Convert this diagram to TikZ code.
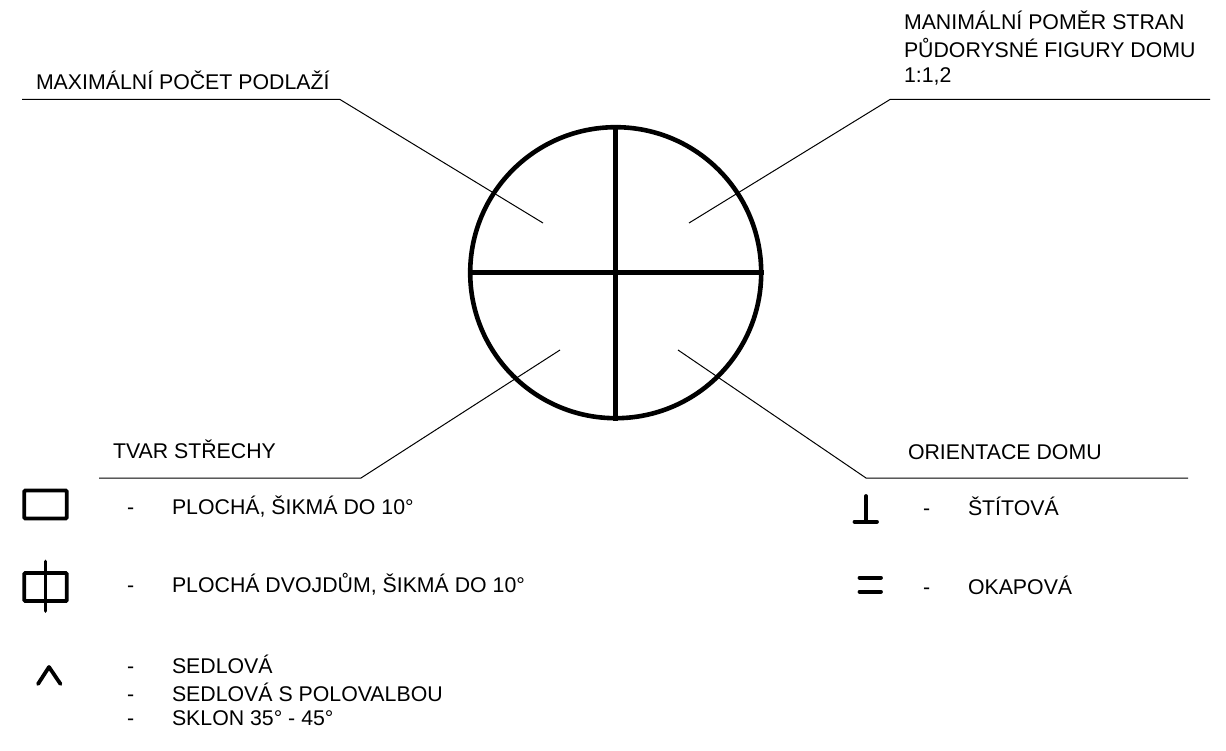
\documentclass[tikz,border=0pt]{standalone}
\usepackage{fontspec}
\setmainfont{Liberation Sans}
\usepackage{xcolor}
\definecolor{jet}{HTML}{000000}
\usepackage{tikz}
\usetikzlibrary{positioning, calc}
\tikzset{
    legend/.style = {anchor=base west, inner sep=0pt, outer sep=0pt, font=\fontsize{21.3}{25}\selectfont, color=jet},
    leader/.style = {line width=1pt, color=jet},
    heavy/.style = {line width=4.6pt, color=jet},
    symbol/.style = {line width=3.8pt, color=jet, line cap=round, line join=round},
    symbox/.style = {draw=jet, line width=3.6pt, rounded corners=0.8pt, minimum width=42.5pt, minimum height=28pt, inner sep=0pt},
}
\begin{document}
\begin{tikzpicture}[x=1pt, y=-1pt]
        \useasboundingbox (0,0) rectangle (1226,751);
        % circle
        \node[circle, draw=jet, line width=4.6pt, minimum size=291pt, inner sep=0pt] (C) at (615.7,272.7) {};
        \draw[heavy] (C.north) -- (C.south);
        \draw[heavy] (C.west) -- (C.east);
        % leaders
        \coordinate (a1) at (22,99.5);
        \coordinate (a2) at (340,99.5);
        \coordinate (a3) at (543,223);
        \coordinate (b1) at (1210,99.5);
        \coordinate (b2) at (890,99.5);
        \coordinate (b3) at (689,223);
        \coordinate (c1) at (99,478);
        \coordinate (c2) at (361,478);
        \coordinate (c3) at (560,350);
        \coordinate (d1) at (1188,478);
        \coordinate (d2) at (866,478);
        \coordinate (d3) at (678,350);
        \draw[leader] (a1) -- (a2) -- (a3);
        \draw[leader] (b1) -- (b2) -- (b3);
        \draw[leader] (c1) -- (c2) -- (c3);
        \draw[leader] (d1) -- (d2) -- (d3);
        % headings
        \node[legend] (maxpodl) at (36,89.5) {MAXIMÁLNÍ POČET PODLAŽÍ};
        \node[legend] (pomer1) at (904,30) {MANIMÁLNÍ POMĚR STRAN};
        \node[legend] (pomer2) at (904,57.5) {PŮDORYSNÉ FIGURY DOMU};
        \node[legend] (pomer3) at (904,83) {1:1,2};
        \node[legend] (tvar) at (113,458.5) {TVAR STŘECHY};
        \node[legend] (orient) at (908,459.5) {ORIENTACE DOMU};
        % roof types
        \node[symbox] (plocha) at (45.5,504.5) {};
        \node[legend] (dash1) at (127,514) {-};
        \node[legend] (plochatxt) at (172,514) {PLOCHÁ, ŠIKMÁ DO 10°};
        \node[symbox] (dvoj) at (45.5,587) {};
        \coordinate (dvojt) at (45.5,561.5);
        \coordinate (dvojb) at (45.5,611);
        \draw[symbol] (dvojt) -- (dvojb);
        \node[legend] (dash2) at (127,592) {-};
        \node[legend] (dvojtxt) at (172,592) {PLOCHÁ DVOJDŮM, ŠIKMÁ DO 10°};
        \coordinate (sedl) at (38,684);
        \coordinate (sedm) at (49,667);
        \coordinate (sedr) at (60.5,684);
        \draw[symbol] (sedl) -- (sedm) -- (sedr);
        \node[legend] (dash3) at (127,673) {-};
        \node[legend] (sedltxt) at (172,673) {SEDLOVÁ};
        \node[legend] (dash4) at (127,701.5) {-};
        \node[legend] (polotxt) at (172,701.5) {SEDLOVÁ S POLOVALBOU};
        \node[legend] (dash5) at (127,725.5) {-};
        \node[legend] (sklontxt) at (172,725.5) {SKLON 35° - 45°};
        % orientation
        \coordinate (perpt) at (866,496);
        \coordinate (perpb) at (866,521.7);
        \coordinate (perpl) at (854.5,521.7);
        \coordinate (perpr) at (877,521.7);
        \draw[symbol] (perpt) -- (perpb);
        \draw[symbol] (perpl) -- (perpr);
        \node[legend] (dash6) at (923,515) {-};
        \node[legend] (stittxt) at (968,515) {ŠTÍTOVÁ};
        \coordinate (eq1l) at (859.5,577.7);
        \coordinate (eq1r) at (881,577.7);
        \coordinate (eq2l) at (859.5,591.7);
        \coordinate (eq2r) at (881,591.7);
        \draw[symbol] (eq1l) -- (eq1r);
        \draw[symbol] (eq2l) -- (eq2r);
        \node[legend] (dash7) at (923,594) {-};
        \node[legend] (okaptxt) at (968,594) {OKAPOVÁ};
\end{tikzpicture}
\end{document}
